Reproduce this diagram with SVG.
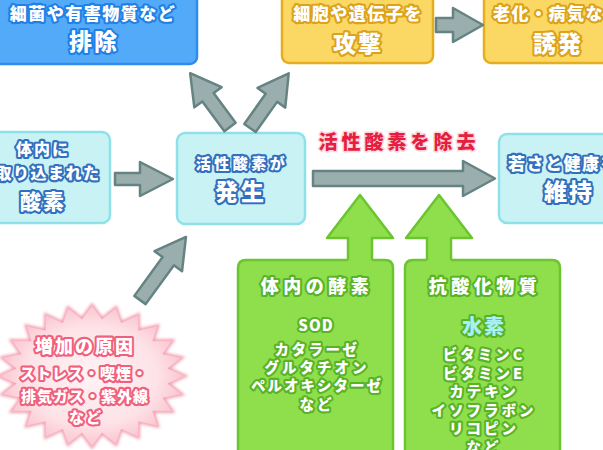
<svg xmlns="http://www.w3.org/2000/svg" width="603" height="450" viewBox="0 0 603 450">
<defs>
<style>
.t{font-family:"Noto Sans CJK JP","Noto Sans CJK SC",sans-serif;font-weight:900;text-anchor:middle;dominant-baseline:central;paint-order:stroke;stroke-linejoin:round;fill:#fff;stroke-width:4.2}
.ts{text-anchor:start}
.bl{stroke:#2080e6}
.ye{stroke:#dca21a}
.cy{stroke:#3270bd}
.gr{stroke:#58b327}
.pk{stroke:#f0607c}
.rd{fill:#e51f40;stroke:#fdd6dd;stroke-width:3}
.box-b{fill:#53aaf8;stroke:#2d8cf0;stroke-width:2.5}
.box-y{fill:#fbd863;stroke:#e6ae1e;stroke-width:2.5}
.box-c{fill:#c8f2f4;stroke:#8fe1e9;stroke-width:2.5}
.garr{fill:#9aaeae;stroke:#668383;stroke-width:2.5;stroke-linejoin:round}
.gfill{fill:#8fdf4c;stroke:none}
.gline{fill:none;stroke:#6cc530;stroke-width:2.5;stroke-linejoin:round}
</style>
<radialGradient id="starg" cx="50%" cy="50%" r="50%">
<stop offset="0" stop-color="#fff3f5"/>
<stop offset="0.7" stop-color="#fde3e8"/>
<stop offset="1" stop-color="#fbc6d0"/>
</radialGradient>
<filter id="blur" x="-10%" y="-10%" width="120%" height="120%"><feGaussianBlur stdDeviation="1.8"/></filter>
</defs>
<rect width="603" height="450" fill="#fff"/>

<g id="node-haijo">
<rect class="box-b" x="-10" y="-10" width="207" height="74" rx="7"/>
<text class="t bl" x="93" y="12" font-size="17" letter-spacing="1.5">細菌や有害物質など</text>
<text class="t bl" x="94" y="40" font-size="23" letter-spacing="2">排除</text>
</g>

<g id="node-kougeki">
<rect class="box-y" x="282" y="-10" width="151" height="73" rx="7"/>
<text class="t ye" x="358" y="12" font-size="17" letter-spacing="1.5">細胞や遺伝子を</text>
<text class="t ye" x="358" y="42" font-size="23" letter-spacing="2">攻撃</text>
</g>

<g id="node-yuuhatsu">
<rect class="box-y" x="484" y="-10" width="140" height="73" rx="7"/>
<text class="t ye ts" x="493" y="12" font-size="17" letter-spacing="1.5">老化・病気など</text>
<text class="t ye" x="558" y="42" font-size="23" letter-spacing="2">誘発</text>
</g>

<g id="node-sanso">
<rect class="box-c" x="-10" y="132" width="120" height="91" rx="8"/>
<text class="t cy" x="43" y="148" font-size="16" letter-spacing="2">体内に</text>
<text class="t cy" x="48" y="172" font-size="16" letter-spacing="1.5">取り込まれた</text>
<text class="t cy" x="43" y="200" font-size="21" letter-spacing="2">酸素</text>
</g>

<g id="node-hassei">
<rect class="box-c" x="177" y="133" width="128" height="91" rx="8"/>
<text class="t cy" x="242" y="162" font-size="15" letter-spacing="3.5">活性酸素が</text>
<text class="t cy" x="241" y="190" font-size="23" letter-spacing="3">発生</text>
</g>

<g id="node-iji">
<rect class="box-c" x="499" y="134" width="130" height="89" rx="8"/>
<text class="t cy ts" x="508" y="162" font-size="17" letter-spacing="1.5">若さと健康を</text>
<text class="t cy" x="569" y="190" font-size="23" letter-spacing="2">維持</text>
</g>

<g id="label-jokyo">
<text class="t rd" x="399" y="140" font-size="19" letter-spacing="4">活性酸素を除去</text>
</g>

<g id="node-koso">
<rect class="gfill" x="238" y="260" width="155" height="210" rx="8"/>
<path class="gline" d="M238,470 V268 Q238,260 246,260 H348 M372,260 H385 Q393,260 393,268 V470"/>
<text class="t gr" x="317" y="285" font-size="18" letter-spacing="4.5">体内の酵素</text>
<text class="t gr" x="316" y="324" font-size="15" letter-spacing="1">SOD</text>
<text class="t gr" x="317" y="348" font-size="14.5" letter-spacing="2.5">カタラーゼ</text>
<text class="t gr" x="317" y="366" font-size="14.5" letter-spacing="3">グルタチオン</text>
<text class="t gr" x="317" y="384" font-size="14.5" letter-spacing="2">ペルオキシターゼ</text>
<text class="t gr" x="317" y="403" font-size="14.5" letter-spacing="3">など</text>
</g>

<g id="node-koosanka">
<rect class="gfill" x="405" y="260" width="155" height="210" rx="8"/>
<path class="gline" d="M405,470 V268 Q405,260 413,260 H427 M451,260 H552 Q560,260 560,268 V470"/>
<text class="t gr" x="485" y="285" font-size="18" letter-spacing="4.5">抗酸化物質</text>
<text class="t gr" x="484" y="325" font-size="20" letter-spacing="2" style="fill:#a8f0f4">水素</text>
<text class="t gr" x="484" y="353" font-size="14.5" letter-spacing="3">ビタミンC</text>
<text class="t gr" x="484" y="372" font-size="14.5" letter-spacing="3">ビタミンE</text>
<text class="t gr" x="484" y="390" font-size="14.5" letter-spacing="3">カテキン</text>
<text class="t gr" x="484" y="409" font-size="14.5" letter-spacing="3">イソフラボン</text>
<text class="t gr" x="484" y="427" font-size="14.5" letter-spacing="3">リコピン</text>
<text class="t gr" x="484" y="446" font-size="14.5" letter-spacing="3">など</text>
</g>

<g id="node-gen-in">
<polygon filter="url(#blur)" fill="none" stroke="#f5a0b3" stroke-width="4" points="184,376 167.3,383.4 180.9,394.1 162.2,397.8 171.7,411 152.3,410.7 157.1,425.5 138.3,421.2 138,436.6 121.1,428.7 115.8,443.6 101.9,432.5 92,446 82.1,432.5 68.2,443.6 62.9,428.7 46,436.6 45.7,421.2 26.9,425.5 31.7,410.7 12.3,411 21.8,397.8 3.1,394.1 16.7,383.4 0,376 16.7,368.6 3.1,357.9 21.8,354.2 12.3,341 31.7,341.3 26.9,326.5 45.7,330.8 46,315.4 62.9,323.3 68.2,308.4 82.1,319.5 92,306 101.9,319.5 115.8,308.4 121.1,323.3 138,315.4 138.3,330.8 157.1,326.5 152.3,341.3 171.7,341 162.2,354.2 180.9,357.9 167.3,368.6"/>
<polygon fill="url(#starg)" points="184,376 167.3,383.4 180.9,394.1 162.2,397.8 171.7,411 152.3,410.7 157.1,425.5 138.3,421.2 138,436.6 121.1,428.7 115.8,443.6 101.9,432.5 92,446 82.1,432.5 68.2,443.6 62.9,428.7 46,436.6 45.7,421.2 26.9,425.5 31.7,410.7 12.3,411 21.8,397.8 3.1,394.1 16.7,383.4 0,376 16.7,368.6 3.1,357.9 21.8,354.2 12.3,341 31.7,341.3 26.9,326.5 45.7,330.8 46,315.4 62.9,323.3 68.2,308.4 82.1,319.5 92,306 101.9,319.5 115.8,308.4 121.1,323.3 138,315.4 138.3,330.8 157.1,326.5 152.3,341.3 171.7,341 162.2,354.2 180.9,357.9 167.3,368.6"/>
<text class="t pk" x="85" y="345" font-size="18" letter-spacing="2">増加の原因</text>
<text class="t pk" x="84" y="372" font-size="15" letter-spacing="1">ストレス・喫煙・</text>
<text class="t pk" x="85" y="395" font-size="15" letter-spacing="1">排気ガス・紫外線</text>
<text class="t pk" x="86" y="416" font-size="15" letter-spacing="2">など</text>
</g>

<g id="connectors">
<path class="garr" d="M115,173 H140 V162 L173,179 L140,196 V185 H115 Z"/>
<path class="garr" d="M313,171 H463 V161 L495,178.5 L463,196 V186 H313 Z"/>
<path class="garr" d="M436,18 H453 V8 L483,25 L453,42 V32 H436 Z"/>
<path class="garr" transform="translate(230,127) rotate(-126.5)" d="M0,-7 H37 V-17 L67,0 L37,17 V7 H0 Z"/>
<path class="garr" transform="translate(250,128) rotate(-54.7)" d="M0,-7 H37 V-17 L67,0 L37,17 V7 H0 Z"/>
<path class="garr" transform="translate(140,300) rotate(-53.9)" d="M0,-7 H48 V-17 L78,0 L48,17 V7 H0 Z"/>
<path class="gfill" d="M348,263 V238 H327 L360,195 L393,238 H372 V263 Z"/>
<path class="gline" d="M348,260 V238 H327 L360,195 L393,238 H372 V260"/>
<path class="gfill" d="M427,263 V238 H406 L439,195 L472,238 H451 V263 Z"/>
<path class="gline" d="M427,260 V238 H406 L439,195 L472,238 H451 V260"/>
</g>
</svg>
